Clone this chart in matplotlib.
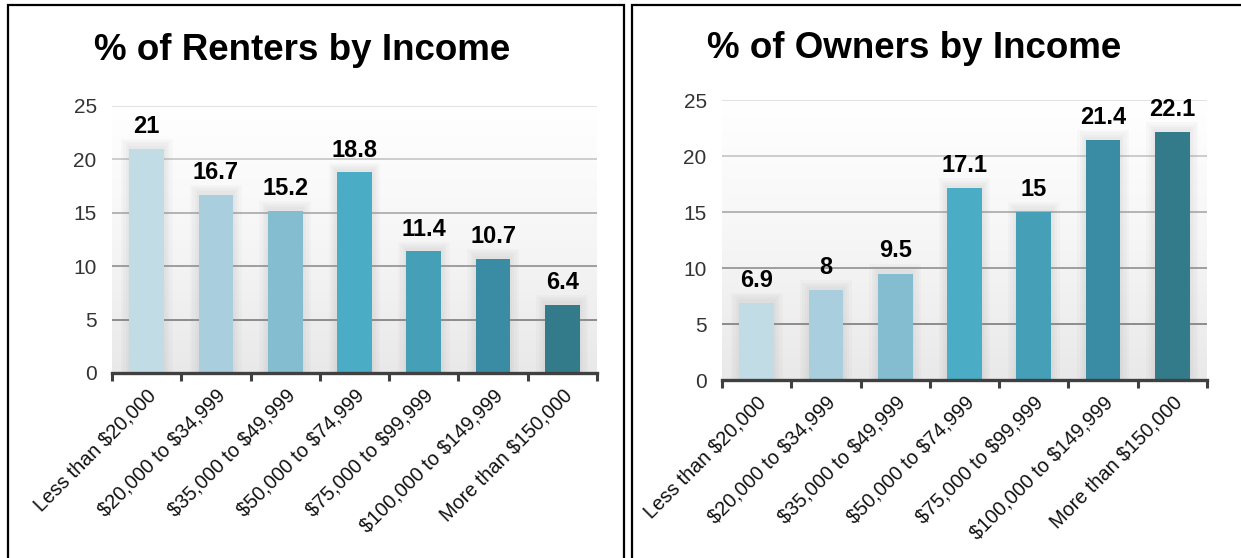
import numpy as np
import matplotlib
matplotlib.use("Agg")
import matplotlib.pyplot as plt
from matplotlib.patches import Rectangle
from matplotlib.colors import LinearSegmentedColormap

categories = ["Less than $20,000", "$20,000 to $34,999", "$35,000 to $49,999",
              "$50,000 to $74,999", "$75,000 to $99,999", "$100,000 to $149,999",
              "More than $150,000"]
renters = [21, 16.7, 15.2, 18.8, 11.4, 10.7, 6.4]
owners = [6.9, 8, 9.5, 17.1, 15, 21.4, 22.1]
titles = ["% of Renters by Income", "% of Owners by Income"]
yticks = [0, 5, 10, 15, 20, 25]

bar_colors = ["#C2DCE6", "#A9CEDD", "#84BDD0", "#4BACC6", "#449FB7", "#3A8CA4", "#337A8A"]
grid_colors = {5: "#8C8C8C", 10: "#9E9E9E", 15: "#B4B4B4", 20: "#CCCCCC", 25: "#E2E2E2"}

FONT = ["Liberation Sans Narrow", "Liberation Sans", "DejaVu Sans"]
plt.rcParams["font.family"] = FONT
plt.rcParams["text.parse_math"] = False

fig = plt.figure(figsize=(12.41, 5.58), dpi=100)

# panel frames
for (x0, x1) in [(8 / 1241, 624 / 1241), (632 / 1241, 1.2)]:
    fig.add_artist(Rectangle((x0, -0.1), x1 - x0, 1.1 - 5 / 558,
                             transform=fig.transFigure, fill=False,
                             edgecolor="black", linewidth=1.6))

axes_pos = [[112 / 1241, 185 / 558, 485 / 1241, 267 / 558],
            [722 / 1241, 178 / 558, 485 / 1241, 280 / 558]]
title_pos = [(302 / 1241, 1 - 51 / 558), (914 / 1241, 1 - 48 / 558)]

x = np.arange(len(categories))
grad = np.linspace(0, 1, 256).reshape(-1, 1)
cmap = LinearSegmentedColormap.from_list("bg", ["#E9E9E9", "#F6F6F6", "#FFFFFF"])

for i, vals in enumerate([renters, owners]):
    ax = fig.add_axes(axes_pos[i])
    ax.set_xlim(-0.5, len(categories) - 0.5)
    ax.set_ylim(0, 25)
    ax.imshow(grad, extent=[-0.5, len(categories) - 0.5, 0, 25], origin="lower",
              cmap=cmap, aspect="auto", zorder=0)
    for yv in yticks[1:]:
        ax.axhline(yv, color=grid_colors[yv], linewidth=1.4, zorder=1)
    # soft shadows
    for k, w in enumerate([0.75, 0.68, 0.61, 0.55]):
        ax.bar(x, [v + 0.9 - 0.2 * k for v in vals], width=w, color="#9A9A9A",
               alpha=0.05, zorder=2, linewidth=0)
    ax.bar(x, vals, width=0.5, color=bar_colors, zorder=3, linewidth=0)
    for xi, v in zip(x, vals):
        ax.text(xi, v + 1.0, f"{v:g}", ha="center", va="bottom", fontsize=17,
                fontweight="bold", color="black", zorder=4)
    for s in ["left", "right", "top"]:
        ax.spines[s].set_visible(False)
    ax.spines["bottom"].set_color("#404040")
    ax.spines["bottom"].set_linewidth(2.4)
    ax.spines["bottom"].set_zorder(5)
    ax.set_yticks(yticks)
    ax.set_yticklabels([str(t) for t in yticks], fontsize=15, color="#333333")
    ax.tick_params(axis="y", length=0, pad=11)
    ax.set_xticks(x)
    ax.set_xticklabels(categories, rotation=45, ha="right", rotation_mode="anchor",
                       fontsize=14.3, color="#111111")
    ax.tick_params(axis="x", which="major", length=0, pad=9)
    ax.set_xticks(np.arange(-0.5, len(categories)), minor=True)
    ax.tick_params(axis="x", which="minor", length=6, width=2.2, color="#404040",
                   direction="out")
    fig.text(title_pos[i][0], title_pos[i][1], titles[i], ha="center", va="center",
             fontsize=26.5, fontweight="bold", color="black")

fig.savefig("out.png", dpi=100)
